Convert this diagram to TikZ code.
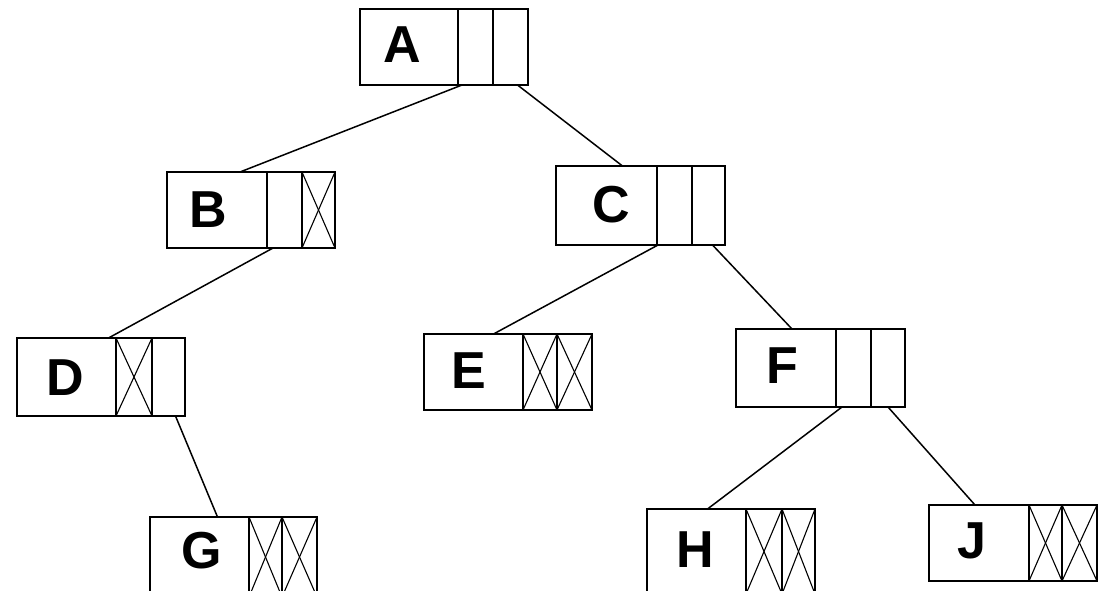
\documentclass[tikz,border=0pt]{standalone}
\usepackage{fontspec}
\setmainfont{Liberation Sans}
\begin{document}
\begin{tikzpicture}[x=1pt,y=-1pt,
  cell/.style={draw, line width=2.7pt, rectangle, inner sep=0pt, outer sep=0pt, anchor=north west},
  letter/.style={inner sep=0pt, anchor=base, font=\fontsize{52}{52}\selectfont\bfseries},
  link/.style={line width=1.5pt},
  crossline/.style={line width=1.1pt}]
\useasboundingbox (0,0) rectangle (1111,590);
\clip (0,0) rectangle (1111,590);

% record: label cell, left pointer cell, right pointer cell
% A
\node[cell, minimum width=98pt, minimum height=76pt] (A) at (360,9) {};
\node[cell, minimum width=35pt, minimum height=76pt] (A1) at (A.north east) {};
\node[cell, minimum width=35pt, minimum height=76pt] (A2) at (A1.north east) {};
\node[letter] (At) at (402,62) {A};
% B
\node[cell, minimum width=100pt, minimum height=76pt] (B) at (167,172) {};
\node[cell, minimum width=35pt, minimum height=76pt] (B1) at (B.north east) {};
\node[cell, minimum width=33pt, minimum height=76pt] (B2) at (B1.north east) {};
\node[letter] (Bt) at (208,227) {B};
% C
\node[cell, minimum width=101pt, minimum height=79pt] (C) at (556,166) {};
\node[cell, minimum width=35pt, minimum height=79pt] (C1) at (C.north east) {};
\node[cell, minimum width=33pt, minimum height=79pt] (C2) at (C1.north east) {};
\node[letter] (Ct) at (611,222) {C};
% D
\node[cell, minimum width=99pt, minimum height=78pt] (D) at (17,338) {};
\node[cell, minimum width=36pt, minimum height=78pt] (D1) at (D.north east) {};
\node[cell, minimum width=33pt, minimum height=78pt] (D2) at (D1.north east) {};
\node[letter] (Dt) at (65,395) {D};
% E
\node[cell, minimum width=99pt, minimum height=76pt] (E) at (424,334) {};
\node[cell, minimum width=34pt, minimum height=76pt] (E1) at (E.north east) {};
\node[cell, minimum width=35pt, minimum height=76pt] (E2) at (E1.north east) {};
\node[letter] (Et) at (469,388) {E};
% F
\node[cell, minimum width=100pt, minimum height=78pt] (F) at (736,329) {};
\node[cell, minimum width=35pt, minimum height=78pt] (F1) at (F.north east) {};
\node[cell, minimum width=34pt, minimum height=78pt] (F2) at (F1.north east) {};
\node[letter] (Ft) at (782,383) {F};
% G
\node[cell, minimum width=99pt, minimum height=80pt] (G) at (150,517) {};
\node[cell, minimum width=33pt, minimum height=80pt] (G1) at (G.north east) {};
\node[cell, minimum width=35pt, minimum height=80pt] (G2) at (G1.north east) {};
\node[letter] (Gt) at (202,568) {G};
% H
\node[cell, minimum width=99pt, minimum height=85pt] (H) at (647,509) {};
\node[cell, minimum width=36pt, minimum height=85pt] (H1) at (H.north east) {};
\node[cell, minimum width=33pt, minimum height=85pt] (H2) at (H1.north east) {};
\node[letter] (Ht) at (695,567) {H};
% J
\node[cell, minimum width=100pt, minimum height=76pt] (J) at (929,505) {};
\node[cell, minimum width=33pt, minimum height=76pt] (J1) at (J.north east) {};
\node[cell, minimum width=35pt, minimum height=76pt] (J2) at (J1.north east) {};
\node[letter] (Jt) at (972,558) {J};

% null pointers
\foreach \c in {B2,D1,E1,E2,G1,G2,H1,H2,J1,J2}{
  \draw[crossline] (\c.north west) -- (\c.south east);
  \draw[crossline] (\c.north east) -- (\c.south west);
}

% child links
\draw[link] ([xshift=4pt]A1.south west) -- ([xshift=23pt]B.north);
\draw[link] ([xshift=7pt]A2.south) -- ([xshift=16pt]C.north);
\draw[link] ([xshift=6pt]B1.south west) -- ([xshift=42pt]D.north);
\draw[link] ([xshift=1pt]C1.south west) -- ([xshift=20pt]E.north);
\draw[link] ([xshift=4pt]C2.south) -- ([xshift=6pt]F.north);
\draw[link] ([xshift=7pt]D2.south) -- ([xshift=18pt]G.north);
\draw[link] ([xshift=6pt]F1.south west) -- ([xshift=11pt]H.north);
\draw[link] (F2.south) -- ([xshift=-4pt]J.north);
\end{tikzpicture}
\end{document}
